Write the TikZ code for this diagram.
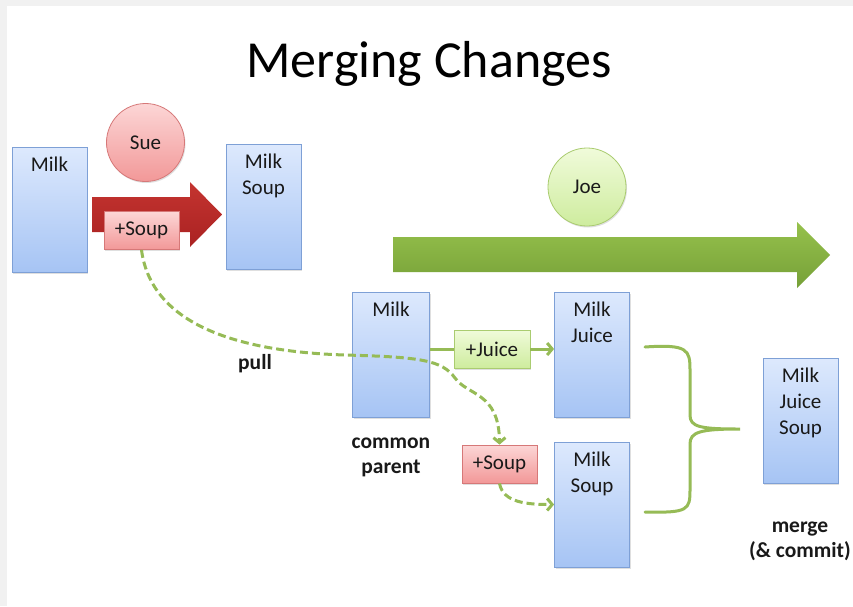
\documentclass[tikz,border=0pt]{standalone}
\usepackage{fontspec}
\setmainfont{Carlito}
\usetikzlibrary{shadows,arrows.meta}
\definecolor{bgframe}{RGB}{241,241,241}
\definecolor{boxtop}{RGB}{221,233,253}
\definecolor{boxbot}{RGB}{166,196,244}
\definecolor{boxdraw}{RGB}{126,160,214}
\definecolor{redtop}{RGB}{252,214,214}
\definecolor{redbot}{RGB}{242,152,152}
\definecolor{reddraw}{RGB}{214,120,120}
\definecolor{grtop}{RGB}{240,251,218}
\definecolor{grbot}{RGB}{206,236,158}
\definecolor{grdraw}{RGB}{170,204,112}
\definecolor{arrred}{RGB}{196,52,48}
\definecolor{arrredd}{RGB}{170,34,34}
\definecolor{arrgr}{RGB}{150,193,76}
\definecolor{arrgrd}{RGB}{118,160,56}
\definecolor{linegr}{RGB}{150,187,86}
\definecolor{txt}{RGB}{25,25,25}
\begin{document}
\begin{tikzpicture}[x=1pt,y=-1pt,
  memo/.style={draw=boxdraw, line width=0.8pt, top color=boxtop, bottom color=boxbot,
    minimum width=75pt, minimum height=125pt, inner sep=0pt,
    drop shadow={shadow xshift=1pt, shadow yshift=-1.5pt, opacity=0.25}},
  boxtext/.style={font=\fontsize{21}{26}\selectfont, text=txt, align=center, anchor=north, inner sep=0pt, yshift=-10pt},
  chg/.style={draw=#1draw, line width=0.8pt, top color=#1top, bottom color=#1bot,
    minimum width=75pt, minimum height=38pt, inner sep=0pt, text=txt,
    font=\fontsize{21}{24}\selectfont,
    drop shadow={shadow xshift=1pt, shadow yshift=-1.5pt, opacity=0.25}},
  who/.style={circle, draw=#1draw, line width=0.8pt, top color=#1top, bottom color=#1bot,
    minimum size=78pt, inner sep=0pt, text=txt, font=\fontsize{21}{24}\selectfont,
    drop shadow={shadow xshift=1pt, shadow yshift=-1.5pt, opacity=0.25}},
  note/.style={font=\bfseries\fontsize{21.5}{25}\selectfont, text=txt, align=center, inner sep=0pt},
  gline/.style={draw=linegr, line width=3pt},
  gtip/.style={-{Straight Barb[length=5pt,width=12pt]}},
  pulldash/.style={gline, dash pattern=on 8pt off 4pt}
]
\fill[bgframe] (0,0) rectangle (853,606);
\fill[white] (7,6) rectangle (853,606);

\node[font=\fontsize{52}{60}\selectfont, text=black, inner sep=0pt] (title) at (429,64) {Merging Changes};

% Sue's side
\node[who=red] (sue) at (145.5,142.5) {Sue};
\node[memo, label={[boxtext]north:Milk}] (m1) at (49.5,209.5) {};
\node[memo, label={[boxtext]north:Milk\\Soup}] (ms1) at (263.5,206.5) {};
\shade[top color=arrred, bottom color=arrredd]
  (92,197) -- (190,197) -- (190,182) -- (222,214.5) -- (190,247) -- (190,232) -- (92,232) -- cycle;
\node[chg=red] (s1) at (141.5,230.5) {+Soup};

% Joe's side
\node[who=gr] (joe) at (587,187) {Joe};
\shade[top color=arrgr, bottom color=arrgrd]
  (393,237) -- (797,237) -- (797,222) -- (830,255) -- (797,288) -- (797,272) -- (393,272) -- cycle;

\node[memo, minimum width=77pt, label={[boxtext]north:Milk}] (cp) at (391,354.5) {};
\node[memo, label={[boxtext]north:Milk\\Juice}] (mj) at (592,354.5) {};
\node[memo, label={[boxtext]north:Milk\\Soup}] (ms2) at (592,504.5) {};
\node[memo, label={[boxtext]north:Milk\\Juice\\Soup}] (mjs) at (800.5,420.5) {};

\node[chg=gr, minimum width=76pt] (pj) at (492,349) {+Juice};
\node[chg=red] (s2) at (499.5,464) {+Soup};

\node[note] (cplabel) at (391,457) {common\\parent};
\node[note] (pull) at (255,364) {pull};
\node[note] (merge) at (800,541) {merge\\(\& commit)};

% connectors
\draw[gline] (cp.east |- pj.west) -- (pj.west);
\draw[gline, gtip] (pj.east) -- (mj.west |- pj.east);

\draw[pulldash, gtip] (s1.south) .. controls (152,330) and (250,352) .. (345,355)
  .. controls (420,357) and (442,360) .. (455,378)
  .. controls (468,396) and (499,392) .. (s2.north);
\draw[pulldash, gtip] (s2.south) .. controls (503,503) and (528,504.5) .. (ms2.west);

% merge brace
\coordinate (bt) at (645,347);
\coordinate (bb) at (645,512);
\coordinate (btip) at (740,429);
\draw[gline, line cap=round] (bt) .. controls (688,344) and (690,350) .. (690,370) -- (690,415)
  .. controls (690,427) and (700,429) .. (btip)
  .. controls (700,429) and (690,432) .. (690,444) -- (690,490)
  .. controls (690,510) and (688,513) .. (bb);
\end{tikzpicture}
\end{document}
